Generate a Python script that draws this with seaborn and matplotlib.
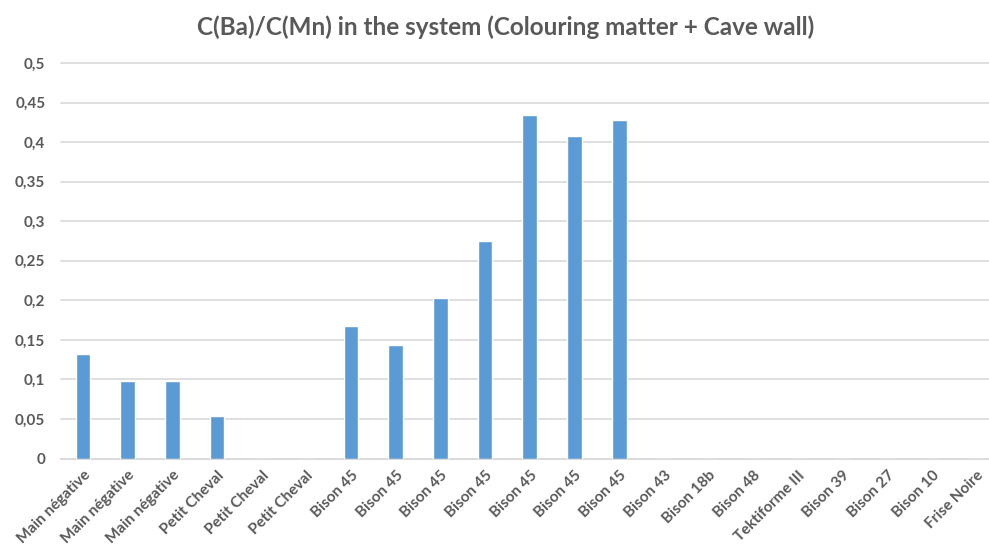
import matplotlib
matplotlib.use("Agg")
import matplotlib.pyplot as plt
import seaborn as sns
import pandas as pd
from matplotlib.ticker import FuncFormatter, MultipleLocator

categories = ["Main négative", "Main négative", "Main négative",
              "Petit Cheval", "Petit Cheval", "Petit Cheval",
              "Bison 45", "Bison 45", "Bison 45", "Bison 45", "Bison 45", "Bison 45", "Bison 45",
              "Bison 43", "Bison 18b", "Bison 48", "Tektiforme III",
              "Bison 39", "Bison 27", "Bison 10", "Frise Noire"]
values = [0.1315, 0.0985, 0.0975, 0.054, 0, 0,
          0.168, 0.144, 0.203, 0.2745, 0.434, 0.408, 0.428,
          0, 0, 0, 0, 0, 0, 0, 0]
title = "C(Ba)/C(Mn) in the system (Colouring matter + Cave wall)"

sns.set_theme(style="white")
plt.rcParams["font.family"] = ["Lato", "DejaVu Sans"]

df = pd.DataFrame({"idx": list(range(len(categories))), "value": values})

fig = plt.figure(figsize=(9.89, 5.5), dpi=100)
ax = fig.add_axes([60.6 / 989, (550 - 458.5) / 550, 938.4 / 989, 395.5 / 550])

sns.barplot(data=df, x="idx", y="value", color="#5B9BD5", saturation=1,
            width=0.33, ax=ax, zorder=3)

text_color = "#595959"
ax.set_ylim(0, 0.5)
ax.set_xlim(-0.5, len(categories) - 0.5)
ax.yaxis.set_major_locator(MultipleLocator(0.05))
ax.yaxis.set_major_formatter(FuncFormatter(lambda v, p: ("%g" % round(v, 3)).replace(".", ",")))
ax.set_xticks(range(len(categories)))
ax.set_xticklabels(categories, rotation=45, ha="right", rotation_mode="anchor")
ax.grid(axis="y", color="#D9D9D9", linewidth=1.2, zorder=0)
for g in ax.get_ygridlines():
    g.set_clip_on(False)
for s in ["top", "right", "left"]:
    ax.spines[s].set_visible(False)
ax.spines["bottom"].set_color("#D9D9D9")
ax.spines["bottom"].set_linewidth(1.2)
ax.tick_params(axis="y", length=0, pad=11, labelsize=11, labelcolor=text_color)
ax.tick_params(axis="x", length=0, pad=7, labelsize=11, labelcolor=text_color)
for lab in ax.get_xticklabels() + ax.get_yticklabels():
    lab.set_fontweight("bold")
ax.set_xlabel("")
ax.set_ylabel("")

fig.text(506 / 989, 1 - 27 / 550, title, ha="center", va="center",
         fontsize=17.5, fontweight="bold", color=text_color)

fig.savefig("out.png", dpi=100, facecolor="white")
